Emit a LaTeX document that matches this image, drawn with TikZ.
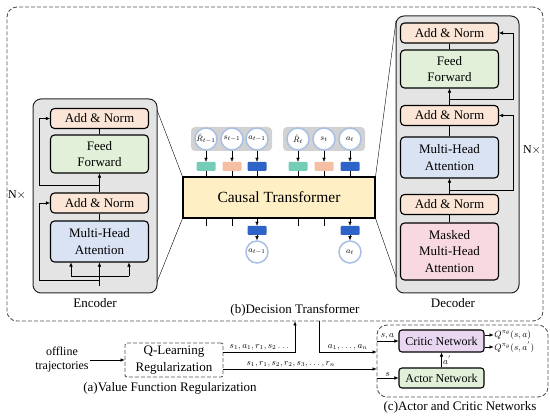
\documentclass[tikz,border=0pt]{standalone}
\usepackage{fontspec}
\setmainfont{Liberation Serif}
\usetikzlibrary{arrows.meta}

\definecolor{normfill}{HTML}{FBE5D6}
\definecolor{fffill}{HTML}{E2F0D9}
\definecolor{mhafill}{HTML}{DAE3F3}
\definecolor{maskfill}{HTML}{F9D9E1}
\definecolor{layerfill}{HTML}{E4E4E4}
\definecolor{ctfill}{HTML}{FFEFC4}
\definecolor{grpfill}{HTML}{D2D2D2}
\definecolor{tokline}{HTML}{A9BFE3}
\definecolor{embR}{HTML}{74CDB6}
\definecolor{embS}{HTML}{F5BFA4}
\definecolor{embA}{HTML}{2E64C8}
\definecolor{criticfill}{HTML}{E9D7F2}
\definecolor{framegray}{HTML}{555555}

\tikzset{
  arr/.style={-{Latex[length=4pt,width=3.5pt]}},
  block/.style={draw, rounded corners=4pt, line width=1.1pt, align=center,
    minimum width=98pt, inner sep=1pt, font=\fontsize{13}{16.5}\selectfont},
  normbox/.style={block, fill=normfill, minimum height=20pt},
  ffbox/.style={block, fill=fffill, minimum height=38pt},
  mhabox/.style={block, fill=mhafill, minimum height=41pt},
  maskbox/.style={block, fill=maskfill, minimum height=57pt},
  layer/.style={draw=black!85, fill=layerfill, line width=1pt, rounded corners=8pt},
  frame/.style={draw=framegray, line width=0.9pt, dash pattern=on 4pt off 2pt,
    rounded corners=10pt, inner sep=0pt},
  token/.style={circle, draw=tokline, line width=1.5pt, fill=white,
    minimum size=22pt, inner sep=0pt, font=\fontsize{8.5}{10}\selectfont},
  embed/.style={minimum width=19pt, minimum height=9pt, inner sep=0pt, rounded corners=1pt},
  group/.style={fill=grpfill, rounded corners=4pt, minimum height=24pt},
  netbox/.style={draw, rounded corners=3pt, line width=1.1pt, minimum width=85pt,
    font=\fontsize{12}{14}\selectfont},
  lbl/.style={font=\fontsize{13}{15}\selectfont, inner sep=1pt},
  small/.style={font=\fontsize{9}{10}\selectfont, inner sep=1.5pt}
}

\begin{document}
\begin{tikzpicture}[x=1pt, y=-1pt]
  \useasboundingbox (0,0) rectangle (550,417);

  % Frames
  \node[frame, minimum width=536pt, minimum height=314pt] (dtframe) at (275,164) {};
  \node[frame, minimum width=171pt, minimum height=72pt] (acframe) at (462.5,361) {};

  % Encoder
  \node[layer, minimum width=124pt, minimum height=194pt] (encoder) at (95,196) {};
  \node[normbox] (enan2) at (99.5,118.5) {Add \& Norm};
  \node[ffbox] (enff) at (99.5,154) {Feed\\Forward};
  \node[normbox] (enan1) at (99.5,203) {Add \& Norm};
  \node[mhabox] (enmha) at (99.5,241.5) {Multi-Head\\Attention};
  \node[lbl] (enclbl) at (95,303) {Encoder};
  \node[lbl, font=\fontsize{12}{14}\selectfont] (nenc) at (17,195) {N$\times$};

  \coordinate (enIn) at (99.5,286);
  \draw[arr] (enIn) -- (enmha);
  \draw (71,276) -- (129,276);
  \foreach \x in {71,129}
    \draw[arr] (\x,276) -- (\x,0 |- enmha.south);
  \draw[arr] (99.5,280) -| (39,0 |- enan1.west) -- (enan1.west);
  \draw (enmha) -- (enan1);
  \draw[arr] (enan1) -- (enff);
  \draw[arr] (99.5,185) -| (39,0 |- enan2.west) -- (enan2.west);
  \draw (enff) -- (enan2);

  % Decoder
  \node[layer, minimum width=123pt, minimum height=277pt] (decoder) at (457.5,154.5) {};
  \node[normbox] (dean3) at (449.5,33) {Add \& Norm};
  \node[ffbox] (deff) at (449.5,69) {Feed\\Forward};
  \node[normbox] (dean2) at (449.5,115.5) {Add \& Norm};
  \node[mhabox] (demha) at (449.5,157.5) {Multi-Head\\Attention};
  \node[normbox] (dean1) at (449.5,204.5) {Add \& Norm};
  \node[maskbox] (demmha) at (449.5,251.5) {Masked\\Multi-Head\\Attention};
  \node[lbl] (declbl) at (453,303) {Decoder};
  \node[lbl, font=\fontsize{12}{14}\selectfont] (ndec) at (532,150) {N$\times$};

  \draw (demmha) -- (dean1);
  \draw[arr] (dean1) -- (demha);
  \draw[arr] (449.5,190) -| (513,0 |- dean2.east) -- (dean2.east);
  \draw (demha) -- (dean2);
  \draw[arr] (dean2) -- (deff);
  \draw[arr] (449.5,99) -| (513,0 |- dean3.east) -- (dean3.east);
  \draw (deff) -- (dean3);

  % Causal transformer
  \node[draw, line width=1.1pt, fill=ctfill, minimum width=192pt, minimum height=41pt,
    font=\fontsize{15.5}{18}\selectfont] (ct) at (279,197.5) {Causal Transformer};
  \coordinate (encTR) at (157,110);
  \coordinate (encBR) at (157,282);
  \coordinate (decTL) at (396,21);
  \coordinate (decBL) at (396,277);
  \draw (encTR) -- (ct.north west);
  \draw (encBR) -- (ct.south west);
  \draw (decTL) -- (ct.north east);
  \draw (decBL) -- (ct.south east);

  \node[group, minimum width=81pt] (grp1) at (231.5,139) {};
  \node[group, minimum width=82pt] (grp2) at (324,139) {};
  \foreach \nm/\x/\lab/\col in {r1/206/{\hat{R}_{t-1}}/embR, s1/232/{s_{t-1}}/embS,
      a1/257/{a_{t-1}}/embA, r2/298/{\hat{R}_t}/embR, s2/324/{s_t}/embS, a2/350/{a_t}/embA}{
    \node[token] (tok\nm) at (\x,139) {$\lab$};
    \node[embed, fill=\col] (emb\nm) at (\x,166.5) {};
    \draw[arr] (tok\nm) -- (emb\nm);
    \draw (emb\nm) -- (emb\nm |- ct.north);
  }
  \foreach \nm in {r1,s1,r2,s2}
    \draw (emb\nm |- ct.south) -- ++(0,7);
  \foreach \nm/\lab in {a1/{a_{t-1}}, a2/{a_t}}{
    \node[embed, fill=embA] (out\nm) at (emb\nm |- 0,230.5) {};
    \node[token] (pred\nm) at (emb\nm |- 0,252) {$\lab$};
    \draw[arr] (emb\nm |- ct.south) -- (out\nm);
    \draw[arr] (out\nm) -- (pred\nm);
  }
  \node[lbl] (dtlbl) at (295,310) {(b)Decision Transformer};

  % Value function regularization
  \node[lbl, align=center, font=\fontsize{12}{14}\selectfont] (offl) at (62,360) {offline\\trajectories};
  \node[frame, rounded corners=2pt, minimum width=98pt, minimum height=34pt, align=center,
    font=\fontsize{13}{16.5}\selectfont] (qbox) at (174,360) {Q-Learning\\Regularization};
  \node[lbl] (vfrlbl) at (170,388) {(a)Value Function Regularization};
  \draw[arr] (offl) -- (qbox);
  \draw[arr] (qbox.east |- 0,352) -| (295,0 |- dtframe.south)
    node[small, above, pos=0.25] {$s_1,a_1,r_1,s_2\ldots$};
  \draw[arr] (qbox.east |- 0,369) -- (acframe.west |- 0,369)
    node[small, above, pos=0.44] {$s_1,r_1,s_2,r_2,s_3,\ldots,r_n$};
  \draw[arr] (319,0 |- dtframe.south) |- (acframe.west |- 0,352)
    node[small, above, pos=0.75] {$a_1,\ldots,a_n$};

  % Actor and critic
  \node[netbox, fill=criticfill, minimum height=22pt] (critic) at (441.5,341) {Critic Network};
  \node[netbox, fill=fffill, minimum height=20pt] (actor) at (441.5,378) {Actor Network};
  \draw[arr] (actor) -- (critic) node[small, right, midway] {$a^{'}$};
  \draw[arr] (acframe.west |- critic.west) -- (critic.west) node[small, above, midway] {$s,a$};
  \draw[arr] (acframe.west |- actor.west) -- (actor.west) node[small, above, midway] {$s$};
  \draw[arr] (critic.east |- 0,335) -- ++(9,0) node[small, right, inner sep=0.5pt] {$Q^{\pi_\theta}(s,a)$};
  \draw[arr] (critic.east |- 0,347) -- ++(9,0) node[small, right, inner sep=0.5pt] {$Q^{\pi_\theta}(s,a^{'})$};
  \node[lbl] (aclbl) at (460,407) {(c)Actor and Critic Networks};
\end{tikzpicture}
\end{document}
